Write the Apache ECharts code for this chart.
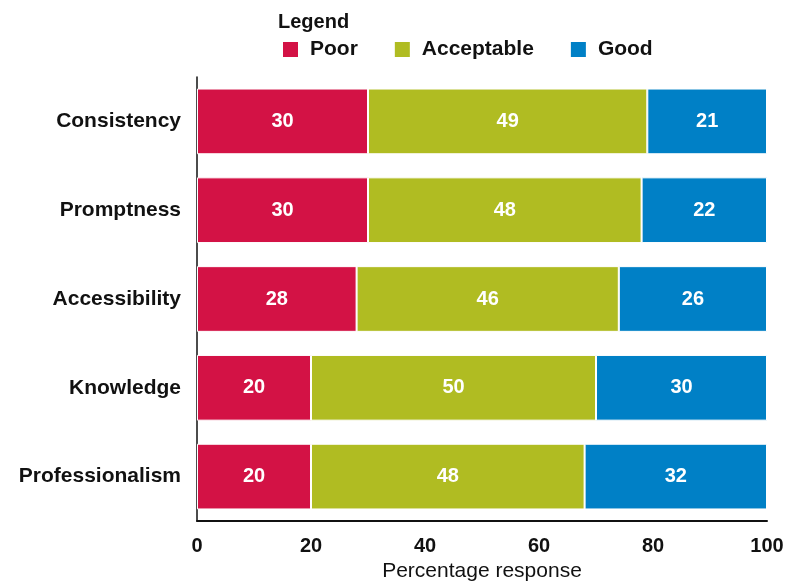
<!DOCTYPE html>
<html><head><meta charset="utf-8">
<script src="https://cdn.jsdelivr.net/npm/echarts@6/dist/echarts.min.js"></script>
<style>html,body{margin:0;padding:0;background:#fff}#c{width:788px;height:581px}</style>
</head><body><div id="c"></div>
<script>
const categories = ["Consistency","Promptness","Accessibility","Knowledge","Professionalism"];
const poor = [30,30,28,20,20];
const acceptable = [49,48,46,50,48];
const good = [21,22,26,30,32];
const xTicks = [0,20,40,60,80,100];

const font = "Liberation Sans, Arial, sans-serif";
const chart = echarts.init(document.getElementById('c'));
function ser(name, data, color){
  return {name, type:'bar', stack:'t', data, barCategoryGap:'26%',
    itemStyle:{color, borderColor:'#fff', borderWidth:1},
    label:{show:true, position:'inside', color:'#fff', fontFamily:font, fontWeight:'bold', fontSize:20},
    emphasis:{disabled:true}};
}
chart.setOption({
  animation:false,
  title:{text:'Legend', left:273, top:7, textStyle:{fontFamily:font, fontWeight:'bold', fontSize:20, color:'#111'}},
  legend:{left:276, top:34, itemWidth:17, itemHeight:17, itemGap:35, icon:'rect',
    textStyle:{fontFamily:font, fontWeight:'bold', fontSize:21, color:'#111', padding:[0,0,0,6]},
    data:['Poor','Acceptable','Good']},
  grid:{left:197, right:21, top:77, bottom:60, containLabel:false, outerBoundsMode:'none'},
  xAxis:{type:'value', min:xTicks[0], max:xTicks[xTicks.length-1], interval:20,
    name:'Percentage response', nameLocation:'middle', nameGap:39,
    nameTextStyle:{fontFamily:font, fontSize:21, color:'#111'},
    axisLine:{show:true, lineStyle:{color:'#111', width:2}}, axisTick:{show:false}, splitLine:{show:false},
    axisLabel:{fontFamily:font, fontWeight:'bold', fontSize:20, color:'#111', margin:15}},
  yAxis:{type:'category', data:categories, inverse:true,
    axisLine:{show:true, lineStyle:{color:'#111', width:1.5}}, axisTick:{show:false},
    axisLabel:{fontFamily:font, fontWeight:'bold', fontSize:21, color:'#111', margin:16}},
  series:[ser('Poor',poor,'#D31245'), ser('Acceptable',acceptable,'#B0BC22'), ser('Good',good,'#0080C6')]
});
</script></body></html>
